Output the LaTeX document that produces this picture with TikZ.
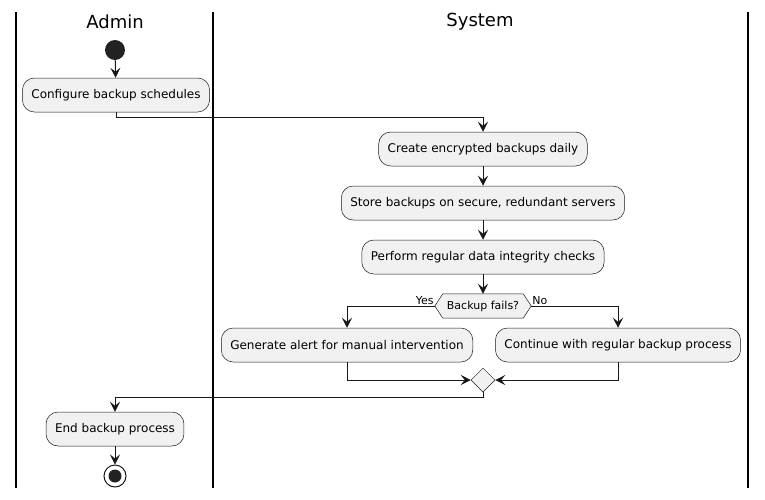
\documentclass[tikz,border=0pt]{standalone}
\usepackage{fontspec}
\setmainfont{DejaVu Sans}
\usetikzlibrary{arrows.meta,shapes.geometric,backgrounds}
\definecolor{boxfill}{HTML}{F1F1F1}
\definecolor{lineclr}{HTML}{181818}
\definecolor{dotclr}{HTML}{222222}
\begin{document}
\begin{tikzpicture}[
  x=1pt, y=-1pt,
  font=\fontsize{12}{14}\selectfont,
  lane/.style={line width=1.5pt},
  title/.style={font=\fontsize{18}{22}\selectfont},
  box/.style={draw=lineclr, line width=0.5pt, rounded corners=12pt, fill=boxfill, minimum height=34pt, inner xsep=9pt},
  flow/.style={-{Stealth[length=10pt,width=10pt,inset=4pt]}, line width=1pt, draw=lineclr},
  merge/.style={diamond, draw=lineclr, fill=boxfill, line width=0.5pt, minimum width=24pt, minimum height=24pt, inner sep=0pt},
  guard/.style={font=\fontsize{11}{13}\selectfont, inner sep=1pt}]
\useasboundingbox (0,0) rectangle (765,499);

% Swimlanes
\draw[lane] (16,12) -- (16,488);
\draw[lane] (213,12) -- (213,488);
\draw[lane] (748,12) -- (748,488);
\node[title] (adminTitle) at (115,22) {Admin};
\node[title] (systemTitle) at (480,22) {System};

% Activities
\node[circle, fill=dotclr, minimum size=20pt, inner sep=0pt] (start) at (115,50) {};
\node[box] (configure) at (116,95) {Configure backup schedules};
\node[box] (create) at (483,149) {Create encrypted backups daily};
\node[box] (store) at (483,203) {Store backups on secure, redundant servers};
\node[box] (check) at (483,257) {Perform regular data integrity checks};
\node[minimum width=96pt, minimum height=24pt, inner sep=0pt, font=\fontsize{11}{13}\selectfont] (fails) at (483,306) {Backup fails?};
\node[guard, anchor=south east] (yes) at (fails.west) {Yes};
\node[guard, anchor=south west] (no) at (fails.east) {No};
\node[box] (alert) at (347,345) {Generate alert for manual intervention};
\node[box] (continue) at (618,345) {Continue with regular backup process};
\node[merge] (join) at (483,380) {};
\node[box] (finish) at (115,429) {End backup process};
\node[circle, draw=lineclr, line width=1pt, fill=white, minimum size=22pt, inner sep=0pt,
  path picture={\fill[dotclr] (path picture bounding box.center) circle (6.5pt);}] (stop) at (115,476) {};

% Decision outline behind its text
\begin{scope}[on background layer]
\filldraw[draw=lineclr, fill=boxfill, line width=0.5pt] (fails.west) -- ([xshift=8pt]fails.north west) -- ([xshift=-8pt]fails.north east) -- (fails.east) -- ([xshift=-8pt]fails.south east) -- ([xshift=8pt]fails.south west) -- cycle;
\end{scope}

% Flow
\draw[flow] (start) -- (configure);
\draw[flow] (configure.south) -- ++(0,5) -| (create.north);
\draw[flow] (create) -- (store);
\draw[flow] (store) -- (check);
\draw[flow] (check) -- (fails);
\draw[flow] (fails.west) -| (alert.north);
\draw[flow] (fails.east) -| (continue.north);
\draw[flow] (alert.south) |- (join.west);
\draw[flow] (continue.south) |- (join.east);
\draw[flow] (join.south) -- ++(0,5) -| (finish.north);
\draw[flow] (finish) -- (stop);
\end{tikzpicture}
\end{document}
